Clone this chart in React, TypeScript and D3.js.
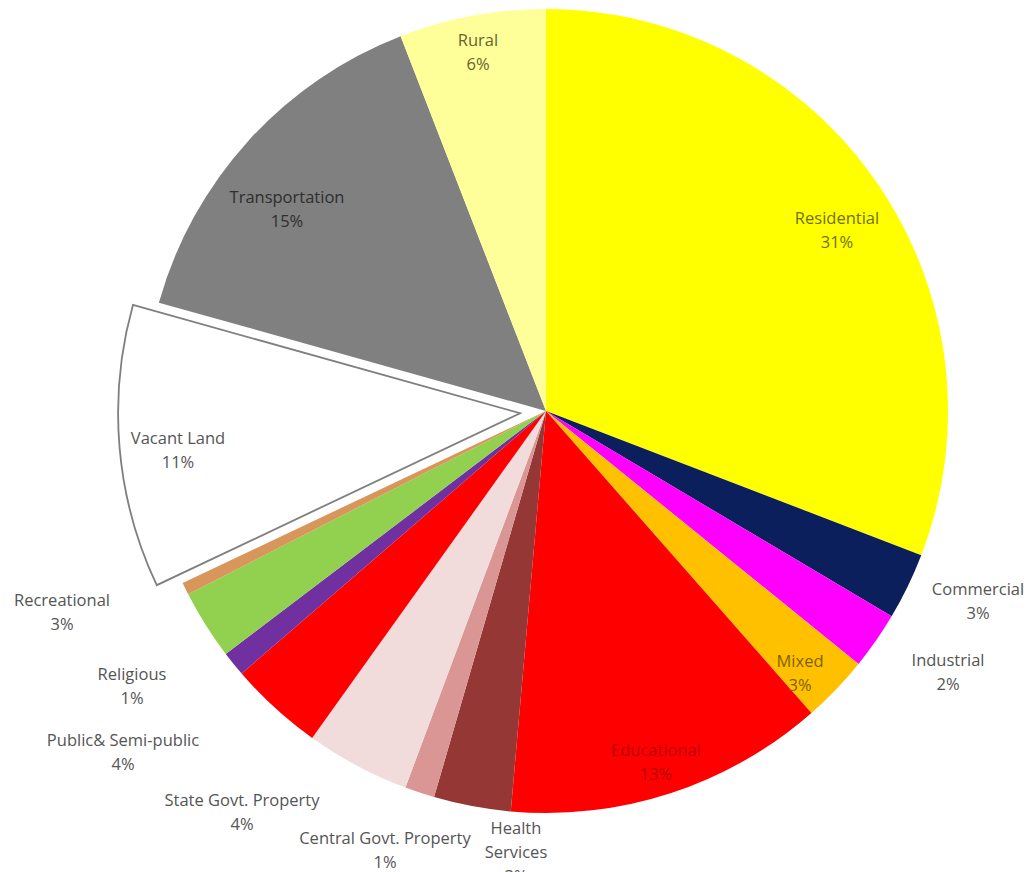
import React from "react";
import * as d3 from "d3";

const categories = [
  "Residential",
  "Commercial",
  "Industrial",
  "Mixed",
  "Educational",
  "Health Services",
  "Central Govt. Property",
  "State Govt. Property",
  "Public& Semi-public",
  "Religious",
  "Recreational",
  "Other",
  "Vacant Land",
  "Transportation",
  "Rural",
];
const values = [30.9, 2.7, 2.3, 2.7, 12.9, 3.1, 1.2, 4.2, 3.8, 1.0, 2.8, 0.5, 11.4, 14.8, 5.9];
const percentLabels = ["31%", "3%", "2%", "3%", "13%", "3%", "1%", "4%", "4%", "1%", "3%", "", "11%", "15%", "6%"];

const colors: Record<string, string> = {
  Residential: "#FFFF00",
  Commercial: "#0B1F5C",
  Industrial: "#FF00FF",
  Mixed: "#FFC000",
  Educational: "#FF0000",
  "Health Services": "#953735",
  "Central Govt. Property": "#D99694",
  "State Govt. Property": "#F2DCDB",
  "Public& Semi-public": "#FF0000",
  Religious: "#7030A0",
  Recreational: "#92D050",
  Other: "#D8965A",
  "Vacant Land": "#FFFFFF",
  Transportation: "#808080",
  Rural: "#FFFF99",
};

// label layout: pixel positions of label centres (first line baseline) and colour
const labelLayout: Record<string, { x: number; y: number; color: string; lines?: string[] }> = {
  Residential: { x: 837, y: 224, color: "#707010" },
  Commercial: { x: 978, y: 595, color: "#555555" },
  Industrial: { x: 948, y: 666, color: "#555555" },
  Mixed: { x: 800, y: 667, color: "#806000" },
  Educational: { x: 656, y: 756, color: "#B80000" },
  "Health Services": { x: 516, y: 834, color: "#555555", lines: ["Health", "Services"] },
  "Central Govt. Property": { x: 385, y: 844, color: "#555555" },
  "State Govt. Property": { x: 242, y: 806, color: "#555555" },
  "Public& Semi-public": { x: 123, y: 746, color: "#555555" },
  Religious: { x: 132, y: 680, color: "#555555" },
  Recreational: { x: 62, y: 606, color: "#555555" },
  "Vacant Land": { x: 178, y: 444, color: "#555555" },
  Transportation: { x: 287, y: 203, color: "#2E2E2E" },
  Rural: { x: 478, y: 46, color: "#65652F" },
};

const CX = 546;
const CY = 411;
const R = 402;
const EXPLODE = 26;

export default function App() {
  const pie = d3
    .pie<number>()
    .sort(null)
    .value((d) => d)
    .startAngle(0)
    .endAngle(2 * Math.PI);
  const arcs = pie(values);
  const arc = d3.arc<d3.PieArcDatum<number>>().innerRadius(0).outerRadius(R);

  return (
    <svg width={1030} height={872} style={{ display: "block", position: "absolute", left: 0, top: 0 }}>
      <rect width={1030} height={872} fill="#fff" />
      <g transform={`translate(${CX},${CY})`}>
        {arcs.map((a, i) => {
          const name = categories[i];
          const exploded = name === "Vacant Land";
          const mid = (a.startAngle + a.endAngle) / 2;
          const dx = exploded ? Math.sin(mid) * EXPLODE : 0;
          const dy = exploded ? -Math.cos(mid) * EXPLODE : 0;
          return (
            <path
              key={name}
              d={arc(a) || ""}
              transform={`translate(${dx},${dy})`}
              fill={colors[name]}
              stroke={exploded ? "#7F7F7F" : "none"}
              strokeWidth={exploded ? 1.8 : 0}
            />
          );
        })}
      </g>
      <g fontFamily="'Open Sans', sans-serif" fontSize={16.5} textAnchor="middle">
        {categories.map((name, i) => {
          const l = labelLayout[name];
          if (!l) return null;
          const lines = (l.lines || [name]).concat([percentLabels[i]]);
          return (
            <text key={name} x={l.x} y={l.y} fill={l.color}>
              {lines.map((t, j) => (
                <tspan key={j} x={l.x} dy={j === 0 ? 0 : 24}>
                  {t}
                </tspan>
              ))}
            </text>
          );
        })}
      </g>
    </svg>
  );
}
